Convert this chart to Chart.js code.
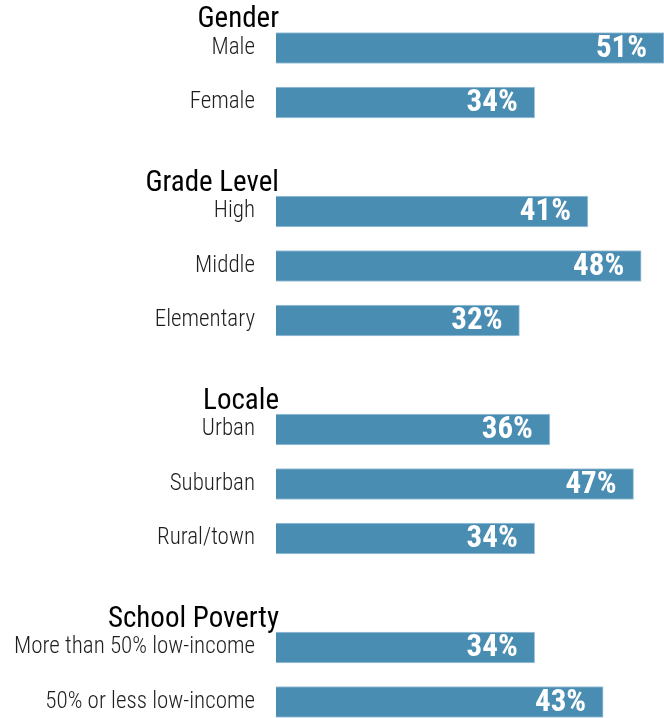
<!DOCTYPE html>
<html>
<head>
<meta charset="utf-8">
<script src="https://cdn.jsdelivr.net/npm/chart.js@4/dist/chart.umd.min.js"></script>
<style>
  html, body { margin: 0; padding: 0; background: #ffffff; overflow: hidden; }
  #wrap { width: 664px; height: 718px; }
</style>
</head>
<body>
<div id="wrap"><canvas id="c" width="664" height="718"></canvas></div>
<script>
// Row labels; empty strings are spacer rows between the groups
const categories = [
  'Male', 'Female', '',
  'High', 'Middle', 'Elementary', '',
  'Urban', 'Suburban', 'Rural/town', '',
  'More than 50% low-income', '50% or less low-income'
];
// Percent of respondents for each row
const values = [51, 34, null, 41, 48, 32, null, 36, 47, 34, null, 34, 43];
// Group headings and the row each one sits above
const groupTitles = ['Gender', 'Grade Level', 'Locale', 'School Poverty'];
const groupFirstRows = ['Male', 'High', 'Urban', 'More than 50% low-income'];

const FONT = "'Roboto Condensed', 'Liberation Sans Narrow', 'DejaVu Sans Condensed', Roboto, sans-serif";

const valueLabels = {
  id: 'valueLabels',
  afterDatasetsDraw(chart) {
    const ctx = chart.ctx;
    const meta = chart.getDatasetMeta(0);
    ctx.save();
    ctx.fillStyle = '#ffffff';
    ctx.font = 'bold 31px ' + FONT;
    ctx.textAlign = 'right';
    ctx.textBaseline = 'middle';
    meta.data.forEach((bar, i) => {
      const v = values[i];
      if (v === null) return;
      ctx.fillText(v + '%', bar.x - 17, bar.y + 1);
    });
    ctx.restore();
  }
};

const groupHeaders = {
  id: 'groupHeaders',
  afterDraw(chart) {
    const ctx = chart.ctx;
    const y = chart.scales.y;
    const step = y.getPixelForValue(1) - y.getPixelForValue(0);
    ctx.save();
    ctx.fillStyle = '#000000';
    ctx.font = '400 29px ' + FONT;
    ctx.textAlign = 'right';
    ctx.textBaseline = 'middle';
    groupTitles.forEach((title, g) => {
      const idx = categories.indexOf(groupFirstRows[g]);
      const py = y.getPixelForValue(idx) - step * 0.51;
      ctx.fillText(title, chart.chartArea.left + 3, py);
    });
    ctx.restore();
  }
};

new Chart(document.getElementById('c'), {
  type: 'bar',
  data: {
    labels: categories,
    datasets: [{
      data: values,
      backgroundColor: '#4a8db2',
      borderColor: '#a3c6dc',
      borderWidth: 1,
      barThickness: 31,
      clip: false
    }]
  },
  options: {
    indexAxis: 'y',
    responsive: false,
    animation: false,
    layout: { padding: { top: 48, bottom: 16, left: 0, right: 0 } },
    plugins: {
      legend: { display: false },
      tooltip: { enabled: false }
    },
    scales: {
      x: {
        display: false,
        min: 0,
        max: 51
      },
      y: {
        offset: false,
        grid: { display: false, drawTicks: true, tickLength: 21 },
        border: { display: false },
        ticks: {
          color: '#1e1e1e',
          padding: 0,
          font: { family: FONT, size: 23, weight: '300' }
        },
        afterFit(scale) { scale.width = 276; }
      }
    }
  },
  plugins: [valueLabels, groupHeaders]
});
</script>
</body>
</html>
